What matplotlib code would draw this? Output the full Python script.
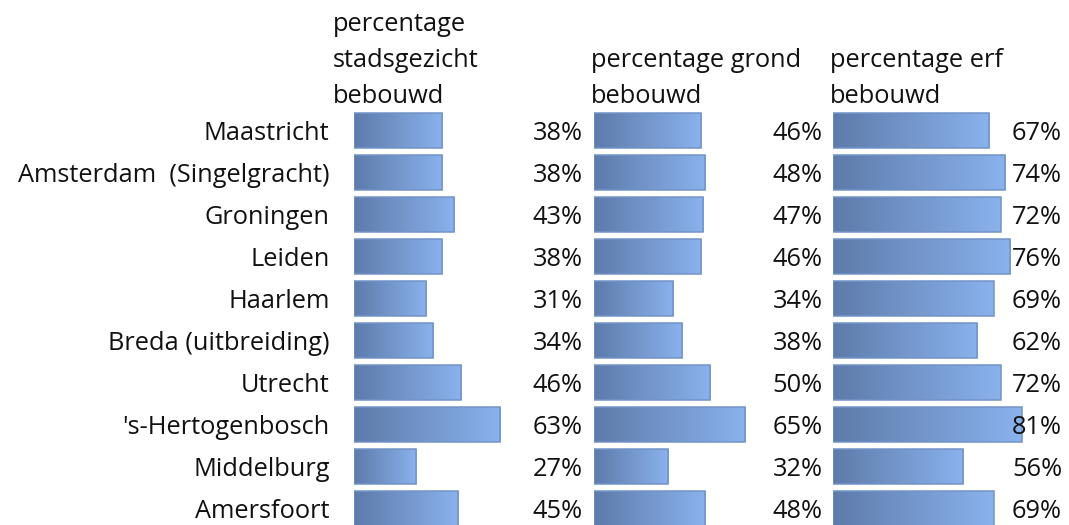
import numpy as np
import matplotlib
matplotlib.use('Agg')
import matplotlib.pyplot as plt
from matplotlib.colors import LinearSegmentedColormap

plt.rcParams['font.family'] = ['Open Sans', 'DejaVu Sans']

steden = ['Maastricht', 'Amsterdam  (Singelgracht)', 'Groningen', 'Leiden', 'Haarlem',
          'Breda (uitbreiding)', 'Utrecht', "'s-Hertogenbosch", 'Middelburg', 'Amersfoort']
stadsgezicht = [38, 38, 43, 38, 31, 34, 46, 63, 27, 45]
grond = [46, 48, 47, 46, 34, 38, 50, 65, 32, 48]
erf = [67, 74, 72, 76, 69, 62, 72, 81, 56, 69]
titels = ['percentage\nstadsgezicht\nbebouwd', 'percentage grond\nbebouwd', 'percentage erf\nbebouwd']

W, H = 1069, 525
fig = plt.figure(figsize=(W / 100, H / 100), dpi=100)

cmap = LinearSegmentedColormap.from_list('blauw', ['#5d7baa', '#8ab2ed'])
grad = np.linspace(0, 1, 256).reshape(1, -1)

fs = 18.3
starts = [353.5, 593.5, 833]
titel_x = [333, 591, 830]
px_per = 2.33
top_px = 108
row0 = 130.3
row_h = 42.0

for k, (reeks, titel) in enumerate(zip([stadsgezicht, grond, erf], titels)):
    x0 = starts[k]
    ax = fig.add_axes([x0 / W, 0, 100 * px_per / W, (H - top_px) / H])
    ax.set_xlim(0, 100)
    ax.set_ylim((H - row0) / row_h, -(row0 - top_px) / row_h)
    ax.axis('off')
    for i, v in enumerate(reeks):
        bar = ax.barh(i, v, height=0.845, facecolor='none', edgecolor='#7393c8', linewidth=1.1, zorder=3)[0]
        im = ax.imshow(grad, cmap=cmap, extent=[0, v, i + 0.42, i - 0.42], aspect='auto', zorder=2)
        im.set_clip_path(bar)
        ax.text(98.3, i + 0.07, f'{v}%', ha='right', va='center', fontsize=fs, color='#111111', zorder=4)
    if k == 0:
        for i, s in enumerate(steden):
            ax.text(-10.3, i + 0.07, s, ha='right', va='center', fontsize=fs, color='#111111')
    fig.text(titel_x[k] / W, 1 - 109 / H, titel, ha='left', va='bottom', fontsize=fs,
             color='#111111', linespacing=1.58)

fig.savefig('out.png', dpi=100)
